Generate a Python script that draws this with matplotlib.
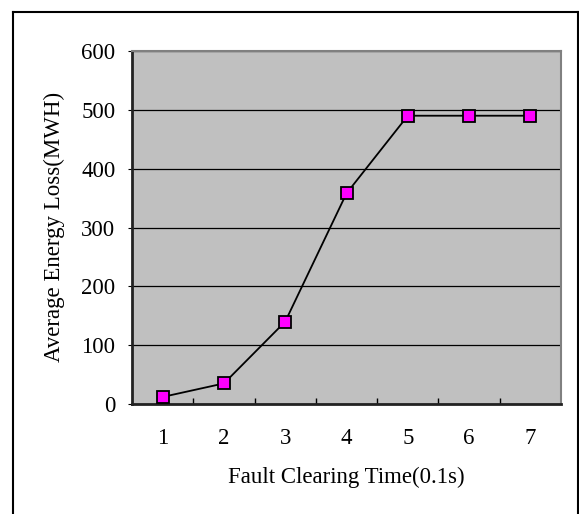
import matplotlib
matplotlib.use("Agg")
import matplotlib.pyplot as plt
from matplotlib.lines import Line2D

categories = [1, 2, 3, 4, 5, 6, 7]
energy_loss = [12, 35, 140, 358, 490, 490, 490]
y_ticks = [0, 100, 200, 300, 400, 500, 600]
x_label = "Fault Clearing Time(0.1s)"
y_label = "Average Energy Loss(MWH)"

plt.rcParams['font.family'] = ['Liberation Serif', 'DejaVu Serif']

W, H = 579, 514
fig = plt.figure(figsize=(W / 100, H / 100), dpi=100)

# outer frame (bottom edge off-canvas)
fx0, fx1, fy1 = 12.5 / W, 578 / W, 1 - 11.5 / H
for xs, ys in [([fx0, fx0], [-0.1, fy1]), ([fx0, fx1], [fy1, fy1]), ([fx1, fx1], [fy1, -0.1])]:
    fig.add_artist(Line2D(xs, ys, color='black', lw=1.5, transform=fig.transFigure))

left, right, top, bottom = 132, 561, 51, 404
ax = fig.add_axes([left / W, 1 - bottom / H, (right - left) / W, (bottom - top) / H])
ax.set_facecolor('#C0C0C0')

ax.plot(categories, energy_loss, color='black', lw=1.3, marker='s', markersize=8,
        markerfacecolor='#FF00FF', markeredgecolor='black', markeredgewidth=1.3, zorder=3)

ax.set_xlim(0.5, 7.5)
ax.set_ylim(0, 600)
ax.set_yticks(y_ticks)
ax.set_xticks(categories)
ax.set_xticks([c + 0.5 for c in categories[:-1]], minor=True)
ax.yaxis.grid(True, color='black', lw=0.9)
ax.set_axisbelow(True)

fs = 16.5
ax.tick_params(axis='x', which='major', length=0, pad=17, labelsize=fs)
ax.tick_params(axis='x', which='minor', length=4.5, direction='in', width=1, color='black')
ax.tick_params(axis='y', which='major', length=3, direction='out', pad=9, labelsize=fs)

for s in ['left', 'bottom']:
    ax.spines[s].set_color('#222222')
    ax.spines[s].set_linewidth(2)
for s in ['top', 'right']:
    ax.spines[s].set_color('#808080')
    ax.spines[s].set_linewidth(1.5)

fig.text(((left + right) / 2) / W, 1 - 477 / H, x_label, ha='center', va='center', fontsize=fs)
fig.text(54 / W, 1 - ((top + bottom) / 2 - 1) / H, y_label, ha='center', va='center',
         rotation=90, fontsize=fs)

fig.savefig('out.png', dpi=100)
